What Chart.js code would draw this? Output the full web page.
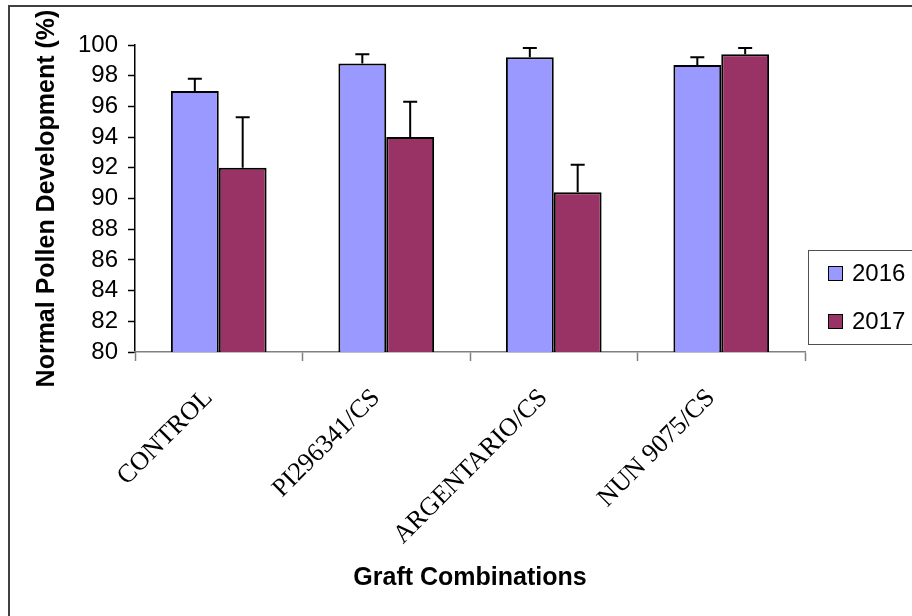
<!DOCTYPE html>
<html>
<head>
<meta charset="utf-8">
<script src="https://cdn.jsdelivr.net/npm/chart.js@4.4.1/dist/chart.umd.min.js"></script>
<style>
  body { margin: 0; background: #fff; }
  canvas { display: block; }
</style>
</head>
<body>
<canvas id="chart" width="912" height="616"></canvas>
<script>
// graft combinations on the x axis
const categories = ["CONTROL", "PI296341/CS", "ARGENTARIO/CS", "NUN 9075/CS"];
const seriesNames = ["2016", "2017"];

// normal pollen development (%)
const values2016 = [97.0, 98.8, 99.2, 98.7];
const values2017 = [92.0, 94.0, 90.4, 99.4];

// upper error bars
const errors2016 = [0.8, 0.6, 0.6, 0.5];
const errors2017 = [3.3, 2.3, 1.8, 0.4];

const yTicks = [80, 82, 84, 86, 88, 90, 92, 94, 96, 98, 100];

const colors = ["#9999FF", "#993366"];

/****** error bars, drawn through the y scale ******/
const errorBars = {
  id: "errorBars",
  afterDatasetsDraw(chart) {
    let ctx = chart.ctx;
    let yScale = chart.scales.y;
    ctx.save();
    ctx.strokeStyle = "#000";
    ctx.lineWidth = 2;
    chart.data.datasets.forEach((ds, i) => {
      let meta = chart.getDatasetMeta(i);
      meta.data.forEach((bar, j) => {
        let top = yScale.getPixelForValue(ds.data[j] + ds.errors[j]);
        ctx.beginPath();
        ctx.moveTo(bar.x, bar.y);
        ctx.lineTo(bar.x, top);
        ctx.moveTo(bar.x - 7, top);
        ctx.lineTo(bar.x + 7, top);
        ctx.stroke();
      });
    });
    ctx.restore();
  }
};

/****** white background and outer frame ******/
const frame = {
  id: "frame",
  beforeDraw(chart) {
    let ctx = chart.ctx;
    ctx.save();
    ctx.fillStyle = "#fff";
    ctx.fillRect(0, 0, chart.width, chart.height);
    ctx.strokeStyle = "#404040";
    ctx.lineWidth = 2;
    ctx.beginPath();
    ctx.moveTo(9, chart.height);
    ctx.lineTo(9, 6);
    ctx.lineTo(chart.width, 6);
    ctx.stroke();
    ctx.restore();
  }
};

/****** boxed legend on the right ******/
const boxLegend = {
  id: "boxLegend",
  afterDraw(chart) {
    let ctx = chart.ctx;
    ctx.save();
    ctx.strokeStyle = "#505050";
    ctx.lineWidth = 1;
    ctx.strokeRect(808.5, 250.5, 120, 94);
    ctx.font = "24px 'Liberation Sans', Arial, sans-serif";
    ctx.textBaseline = "middle";
    chart.data.datasets.forEach((ds, i) => {
      let y = 273 + i * 48;
      ctx.fillStyle = ds.backgroundColor;
      ctx.fillRect(828, y - 7, 14, 14);
      ctx.strokeStyle = "#000";
      ctx.strokeRect(828.5, y - 6.5, 14, 14);
      ctx.fillStyle = "#000";
      ctx.fillText(ds.label, 852, y + 1);
    });
    ctx.restore();
  }
};

new Chart(document.getElementById("chart"), {
  type: "bar",
  data: {
    labels: categories,
    datasets: [
      {
        label: seriesNames[0],
        data: values2016,
        errors: errors2016,
        backgroundColor: colors[0],
        borderColor: "#000",
        borderWidth: 2,
        borderSkipped: false,
        categoryPercentage: 0.5714,
        barPercentage: 1.0,
      },
      {
        label: seriesNames[1],
        data: values2017,
        errors: errors2017,
        backgroundColor: colors[1],
        borderColor: "#000",
        borderWidth: 2,
        borderSkipped: false,
        categoryPercentage: 0.5714,
        barPercentage: 1.0,
      },
    ],
  },
  options: {
    responsive: false,
    animation: false,
    layout: {
      padding: { left: 10, right: 107, top: 45, bottom: 0 },
    },
    plugins: {
      legend: { display: false },
      tooltip: { enabled: false },
    },
    scales: {
      y: {
        min: 80,
        max: 100,
        afterBuildTicks: (scale) => {
          scale.ticks = yTicks.map((v) => ({ value: v }));
        },
        afterFit: (scale) => {
          scale.width = 125;
        },
        grid: {
          drawOnChartArea: false,
          tickLength: 7,
          tickColor: "#000",
          tickWidth: 1.5,
        },
        border: { color: "#000", width: 1.5 },
        ticks: {
          color: "#000",
          padding: 10,
          autoSkip: false,
          font: { family: "'Liberation Sans', Arial, sans-serif", size: 24 },
        },
        title: {
          display: true,
          text: "Normal Pollen Development (%)",
          color: "#000",
          padding: { top: 22, bottom: 0 },
          font: { family: "'Liberation Sans', Arial, sans-serif", size: 25, weight: "bold" },
        },
      },
      x: {
        afterFit: (scale) => {
          scale.height = 264;
        },
        grid: {
          drawOnChartArea: false,
          offset: true,
          tickLength: 9,
          tickColor: "#808080",
          tickWidth: 1.5,
        },
        border: { color: "#808080", width: 1.5 },
        ticks: {
          color: "#000",
          minRotation: 45,
          maxRotation: 45,
          padding: 22,
          labelOffset: -10,
          autoSkip: false,
          font: { family: "'Liberation Serif', 'Times New Roman', serif", size: 26 },
        },
        title: {
          display: true,
          text: "Graft Combinations",
          color: "#000",
          padding: { top: 0, bottom: 23 },
          font: { family: "'Liberation Sans', Arial, sans-serif", size: 25, weight: "bold" },
        },
      },
    },
  },
  plugins: [frame, errorBars, boxLegend],
});
</script>
</body>
</html>
